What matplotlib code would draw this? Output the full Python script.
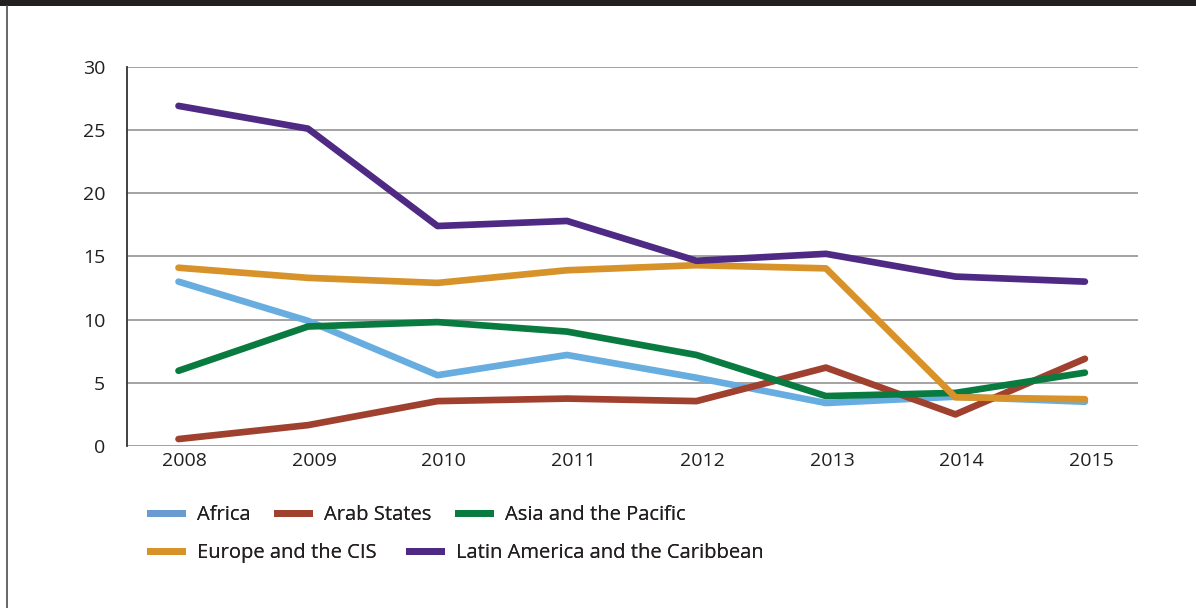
import matplotlib
matplotlib.use("Agg")
import matplotlib.pyplot as plt
from matplotlib.lines import Line2D
from matplotlib.patches import Rectangle
from matplotlib.transforms import ScaledTranslation

years = [2008, 2009, 2010, 2011, 2012, 2013, 2014, 2015]
africa = [13.0, 9.9, 5.6, 7.2, 5.4, 3.4, 3.9, 3.5]
arab_states = [0.55, 1.65, 3.55, 3.75, 3.55, 6.2, 2.5, 6.9]
asia_pacific = [5.95, 9.45, 9.8, 9.05, 7.2, 3.95, 4.2, 5.8]
europe_cis = [14.1, 13.3, 12.9, 13.9, 14.3, 14.05, 3.85, 3.7]
latin_america = [26.9, 25.1, 17.4, 17.8, 14.65, 15.2, 13.4, 13.0]

series_names = ["Africa", "Arab States", "Asia and the Pacific",
                "Europe and the CIS", "Latin America and the Caribbean"]
series_values = [africa, arab_states, asia_pacific, europe_cis, latin_america]
colors = ["#68ade0", "#a0402f", "#0a7b40", "#d8922a", "#4e2a84"]
legend_colors = ["#6a9bd0", "#a0402f", "#0a7b40", "#d8922a", "#4e2a84"]
y_ticks = [0, 5, 10, 15, 20, 25, 30]

plt.rcParams['font.family'] = ['Open Sans', 'DejaVu Sans']
W, H = 1196, 608

fig = plt.figure(figsize=(W / 100, H / 100), dpi=100)
ax = fig.add_axes([126.7 / W, 1 - 446 / H, (1138 - 126.7) / W, (446 - 66.7) / H])

for name, vals, c in zip(series_names, series_values, colors):
    ax.plot(years, vals, color=c, lw=4.8, solid_capstyle='round',
            solid_joinstyle='round', label=name, zorder=3)

ax.set_ylim(0, 30)
ax.set_xlim(2007.6, 2015.41)
ax.set_yticks(y_ticks)
ax.set_xticks(years)
ax.set_xticklabels([str(y) for y in years])
ax.grid(axis='y', color='#a3a3a3', lw=1.4, zorder=1)
ax.set_axisbelow(True)
for s in ['top', 'right', 'bottom']:
    ax.spines[s].set_visible(False)
ax.spines['left'].set_color('#333333')
ax.spines['left'].set_linewidth(1.3)
ax.tick_params(axis='both', length=0, labelsize=14, colors='#231f20')
ax.tick_params(axis='y', pad=15.5)
ax.tick_params(axis='x', pad=4.5)
shift = ScaledTranslation(6 / 100, 0, fig.dpi_scale_trans)
for lbl in ax.get_xticklabels():
    lbl.set_transform(lbl.get_transform() + shift)

# Legend entries placed as in the reference (two flowing rows)
entry_pos = [(150, 515.5), (277, 515.5), (458, 515.5), (150, 553), (409, 553)]
for name, c, (x, y) in zip(series_names, legend_colors, entry_pos):
    h = Line2D([0], [0], color=c, lw=5)
    leg = fig.legend([h], [name], loc='center left', bbox_to_anchor=(x / W, 1 - y / H),
                     frameon=False, prop={'size': 14.5}, handlelength=1.6,
                     handletextpad=0.72, labelcolor='#231f20', borderpad=0,
                     borderaxespad=0)
    fig.add_artist(leg)

# Frame decorations: top dark bar and left border
fig.add_artist(Rectangle((0, 1 - 6 / H), 1, 6 / H, transform=fig.transFigure,
                         color='#231f20', lw=0))
fig.add_artist(Line2D([6.5 / W, 6.5 / W], [0, 1 - 6 / H], transform=fig.transFigure,
                      color='#4d4d4d', lw=1.2))

fig.savefig("out.png", dpi=100)
